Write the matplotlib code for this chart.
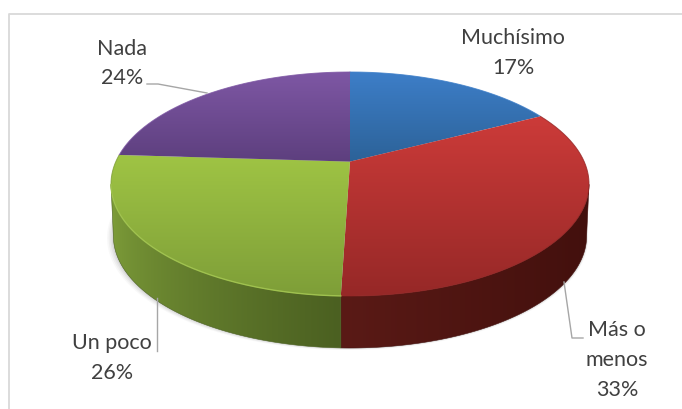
import numpy as np
import matplotlib
matplotlib.use("Agg")
import matplotlib.pyplot as plt
from matplotlib.colors import to_rgb
from matplotlib.patches import Polygon

categories = ["Muchísimo", "Más o menos", "Un poco", "Nada"]
values = [17.4, 33.1, 25.5, 24.0]
label_texts = ["Muchísimo\n17%", "Más o\nmenos\n33%", "Un poco\n26%", "Nada\n24%"]
label_pos = [(513, 53), (617, 360), (112, 358), (122, 63.5)]
top_light = ["#3d7ec8", "#cc3b39", "#9fc444", "#7e57a4"]
top_dark = ["#2c6298", "#962827", "#7e9e38", "#5d3f7e"]
side_left = ["#1f4a75", "#5a1a16", "#7f9f3a", "#4a3060"]
side_right = ["#1f4a75", "#43100d", "#4b6021", "#4a3060"]
side_power = [1.0, 1.0, 0.6, 1.0]
leaders = [None,
           [(564, 282), (572, 338), (583, 338)],
           [(157, 298), (157, 351)],
           [(147, 84), (158, 84), (207, 93)]]

CX, CY, RX, RY = 350.0, 184.0, 239.0, 112.0
PERSP = 0.2
DEPTH = 52.0
BOTTOM_SCALE = 0.99

W, H = 682, 409
fig = plt.figure(figsize=(W / 100, H / 100), dpi=100)
ax = fig.add_axes([0, 0, 1, 1])
ax.set_xlim(0, W)
ax.set_ylim(H, 0)
ax.axis("off")
plt.rcParams["font.family"] = ["Lato", "DejaVu Sans"]


def project(theta):
    """Clockwise angle from the top on the tilted disc -> image x, y, unit y."""
    u, v = np.sin(theta), np.cos(theta)
    d = 1 + PERSP * v
    xp = u * np.sqrt(1 - PERSP ** 2) / d
    yp = (v + PERSP) / d
    return CX + RX * xp, CY - RY * yp, yp


def gradient(poly_xy, c0, c1, horizontal, zorder, power=1.0):
    xs, ys = poly_xy[:, 0], poly_xy[:, 1]
    x0, x1, y0, y1 = xs.min(), xs.max(), ys.min(), ys.max()
    t = np.linspace(0, 1, 256) ** power
    c0, c1 = np.array(to_rgb(c0)), np.array(to_rgb(c1))
    ramp = c0[None, :] * (1 - t[:, None]) + c1[None, :] * t[:, None]
    img = ramp[None, :, :] if horizontal else ramp[:, None, :]
    im = ax.imshow(img, extent=(x0, x1, y1, y0), aspect="auto", zorder=zorder,
                   interpolation="bilinear")
    patch = Polygon(poly_xy, closed=True, transform=ax.transData, fc="none", ec="none")
    ax.add_patch(patch)
    im.set_clip_path(patch)
    return im


# frame: only the left and top edges show
ax.plot([8.5, 8.5, W], [H, 13.5, 13.5], color="#d9d9d9", lw=1.3, zorder=0)

# soft shadow
full = np.linspace(0, 2 * np.pi, 720)
fx, fy, _ = project(full)
bx = CX + (fx - CX) * BOTTOM_SCALE
by = fy + DEPTH
for grow, alpha in [(4, 0.05), (3, 0.07), (2, 0.09), (1, 0.12)]:
    ax.fill(CX + (bx - CX) * (1 + grow / RX) - grow * 0.6, by + grow * 0.5,
            color="#808080", alpha=alpha, lw=0, zorder=1)

# slices
starts = np.cumsum([0] + values[:-1]) / sum(values) * 2 * np.pi
ends = np.cumsum(values) / sum(values) * 2 * np.pi
apex = np.array([CX, CY - RY * PERSP])

for i in range(len(values)):
    th = np.linspace(starts[i], ends[i], 300)
    x, y, yp = project(th)
    front = yp <= 0
    if front.sum() > 1:
        tx, ty = x[front], y[front]
        lowx = CX + (tx - CX) * BOTTOM_SCALE
        lowy = ty + DEPTH
        side = np.vstack([np.c_[tx, ty], np.c_[lowx, lowy][::-1]])
        gradient(side, side_left[i], side_right[i], True, 2, side_power[i])
        ax.fill(side[:, 0], side[:, 1], fc="none",
                ec=side_right[i], lw=0.4, zorder=2)

for i in range(len(values)):
    th = np.linspace(starts[i], ends[i], 300)
    x, y, yp = project(th)
    top = np.vstack([apex, np.c_[x, y]])
    gradient(top, top_light[i], top_dark[i], False, 3)
    ax.plot(x, y, color=top_dark[i] if i in (1, 2) else top_light[i], lw=0.7, zorder=3,
            solid_capstyle="round", alpha=0.8)

# highlight on the front rim of the green slice
th = np.linspace(starts[2], ends[2], 300)
x, y, yp = project(th)
ax.plot(x[yp < 0], y[yp < 0], color="#a9cc55", lw=1.0, alpha=0.8, zorder=4)

# leaders and labels
for pts in leaders:
    if pts:
        ax.plot(*zip(*pts), color="#a6a6a6", lw=1.0, zorder=5)
for txt, (lx, ly) in zip(label_texts, label_pos):
    ax.text(lx, ly, txt, ha="center", va="center", fontsize=15.5, color="#404040",
            linespacing=1.62, zorder=6, family=["Lato", "DejaVu Sans"], multialignment="center")

ax.set_xlim(0, W)
ax.set_ylim(H, 0)
fig.savefig("out.png", dpi=100, facecolor="white")
